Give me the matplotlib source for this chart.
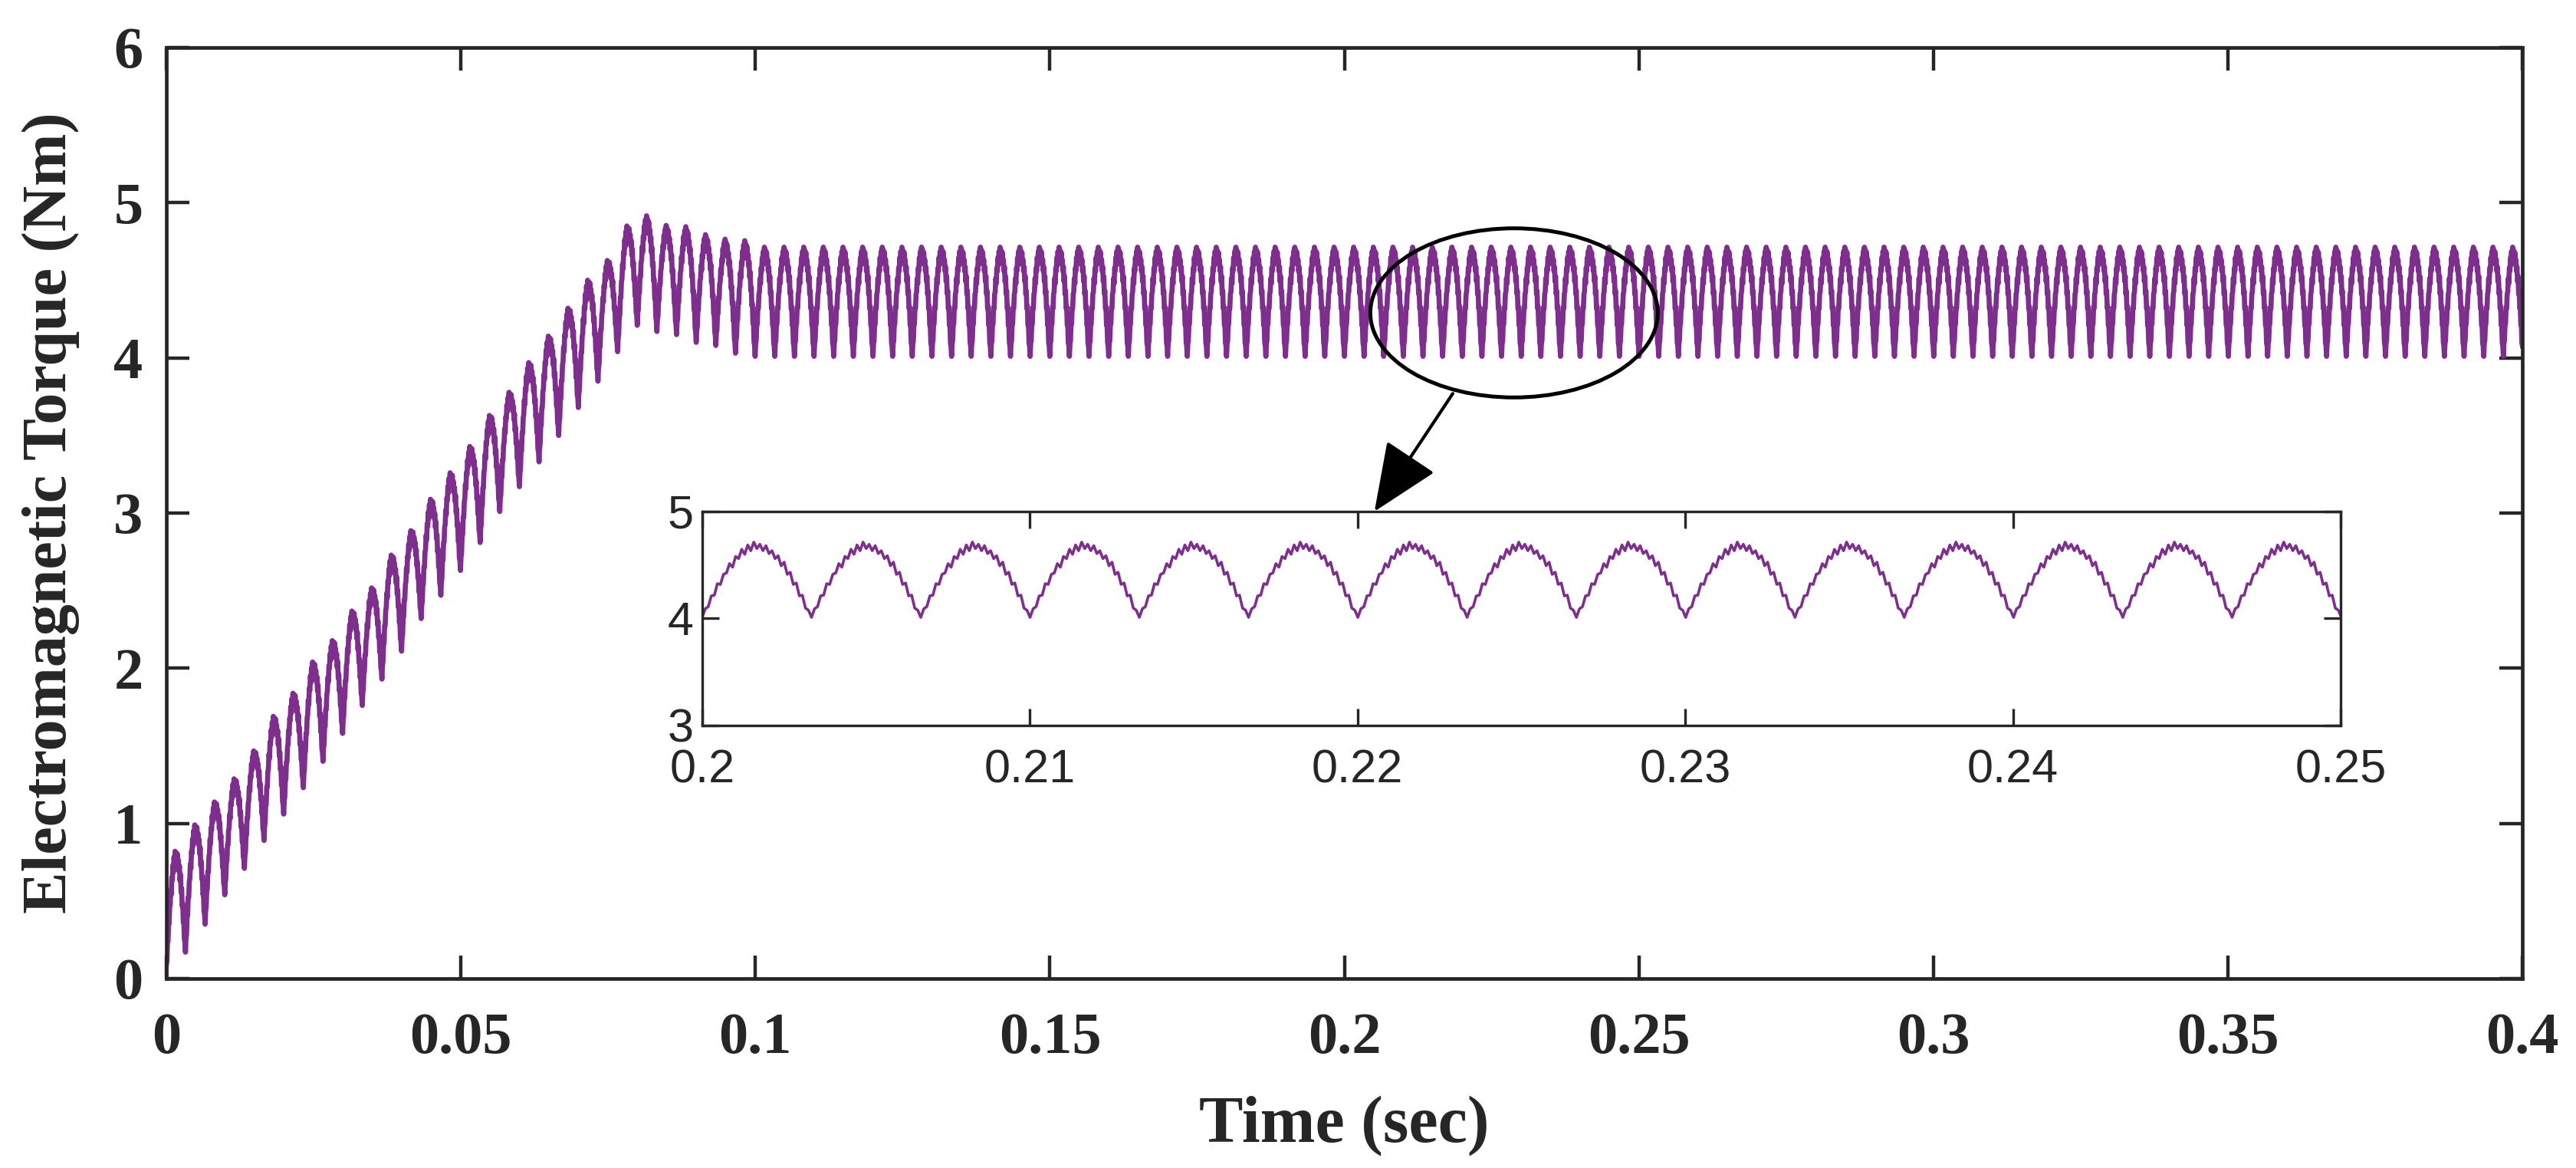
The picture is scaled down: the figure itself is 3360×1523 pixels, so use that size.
import matplotlib.pyplot as plt
from matplotlib.patches import Ellipse, FancyArrowPatch

# ripple period (s) and time of the first valley
periodo = 0.003335
t_inicio = -0.0001
n_ciclos = 120

# valleys at the start of each cycle during start-up (Nm)
valles = [0.00, 0.17, 0.35, 0.54, 0.71, 0.89, 1.06, 1.23, 1.40, 1.58,
          1.76, 1.93, 2.11, 2.32, 2.47, 2.63, 2.81, 3.01, 3.17, 3.33,
          3.50, 3.68, 3.85, 4.04, 4.21, 4.17, 4.15, 4.10, 4.08, 4.03]
# peak of each cycle during start-up (Nm)
picos = [0.79, 0.96, 1.11, 1.26, 1.44, 1.66, 1.81, 2.01, 2.15, 2.34,
         2.49, 2.70, 2.86, 3.06, 3.23, 3.40, 3.60, 3.75, 3.94, 4.11,
         4.29, 4.47, 4.60, 4.82, 4.88, 4.82, 4.81, 4.76, 4.73, 4.72]
# steady state levels
valle_estable = 4.01
pico_estable = 4.68

# shape of one ripple cycle (0 = valley, 1 = peak), with its chatter
forma = [0.00, 0.12, 0.15, 0.30, 0.31, 0.47, 0.46, 0.60, 0.62, 0.75, 0.70, 0.85,
         0.82, 0.95, 0.88, 1.01, 0.93, 1.05, 0.96, 1.02, 0.93, 1.00, 0.89, 0.93,
         0.82, 0.86, 0.72, 0.77, 0.60, 0.63, 0.46, 0.48, 0.30, 0.31, 0.13, 0.10]

lista_valles = valles + [valle_estable] * (n_ciclos + 1 - len(valles))
lista_picos = picos + [pico_estable] * (n_ciclos - len(picos))

lista_t = []
lista_par = []
m = len(forma)
for i in range(n_ciclos):
    v0 = lista_valles[i]
    v1 = lista_valles[i + 1]
    amp = lista_picos[i] - (v0 + v1) / 2
    for j in range(m):
        f = j / m
        lista_t.append(t_inicio + (i + f) * periodo)
        lista_par.append(v0 + (v1 - v0) * f + amp * forma[j])
lista_t.append(t_inicio + n_ciclos * periodo)
lista_par.append(lista_valles[-1])

color_linea = "#7E2F8E"
gris = "#262626"

plt.rcParams["font.family"] = ["Liberation Serif", "DejaVu Serif"]
plt.rcParams["font.weight"] = "bold"

fig = plt.figure(figsize=(16.8, 7.615), dpi=200)
ax = fig.add_axes([0.0646, 0.1622, 0.9146, 0.7971])
ax.plot(lista_t, lista_par, color=color_linea, lw=2.4)
ax.set_xlim(0, 0.4)
ax.set_ylim(0, 6)
ax.set_xticks([0, 0.05, 0.1, 0.15, 0.2, 0.25, 0.3, 0.35, 0.4])
ax.set_xticklabels(["0", "0.05", "0.1", "0.15", "0.2", "0.25", "0.3", "0.35", "0.4"])
ax.set_yticks([0, 1, 2, 3, 4, 5, 6])
ax.tick_params(direction="in", length=10.8, width=1.6, top=True, right=True,
               labelsize=27.5, colors=gris)
ax.tick_params(axis="x", pad=16)
ax.tick_params(axis="y", pad=11)
for s in ax.spines.values():
    s.set_linewidth(1.7)
    s.set_color(gris)
ax.set_xlabel("Time (sec)", fontsize=31, fontweight="bold", color=gris, labelpad=14)
ax.set_ylabel("Electromagnetic Torque (Nm)", fontsize=29.5, fontweight="bold", color=gris, labelpad=16)

# zoomed region marker and arrow
ax.add_patch(Ellipse((0.2288, 4.29), 0.0488, 1.09, fill=False, lw=1.8, color="black", zorder=5))
flecha = FancyArrowPatch((0.2184, 3.77), (0.2051, 3.01), arrowstyle="-|>,head_length=1.4,head_width=0.6",
                         mutation_scale=20, lw=1.5, color="black", shrinkA=0, shrinkB=0, zorder=6)
ax.add_patch(flecha)

# inset
ax2 = fig.add_axes([0.2726, 0.3789, 0.636, 0.1832])
ax2.plot(lista_t, lista_par, color=color_linea, lw=1.3)
ax2.set_xlim(0.2, 0.25)
ax2.set_ylim(3, 5)
ax2.set_xticks([0.2, 0.21, 0.22, 0.23, 0.24, 0.25])
ax2.set_xticklabels(["0.2", "0.21", "0.22", "0.23", "0.24", "0.25"])
ax2.set_yticks([3, 4, 5])
ax2.tick_params(direction="in", length=7.9, width=1.2, top=True, right=True,
                labelsize=22, colors=gris)
ax2.tick_params(axis="x", pad=11)
ax2.tick_params(axis="y", pad=4)
for lab in ax2.get_xticklabels() + ax2.get_yticklabels():
    lab.set_fontfamily(["Liberation Sans", "DejaVu Sans"])
    lab.set_fontweight("normal")
for s in ax2.spines.values():
    s.set_linewidth(1.2)
    s.set_color(gris)

plt.savefig("out.png", dpi=200)
